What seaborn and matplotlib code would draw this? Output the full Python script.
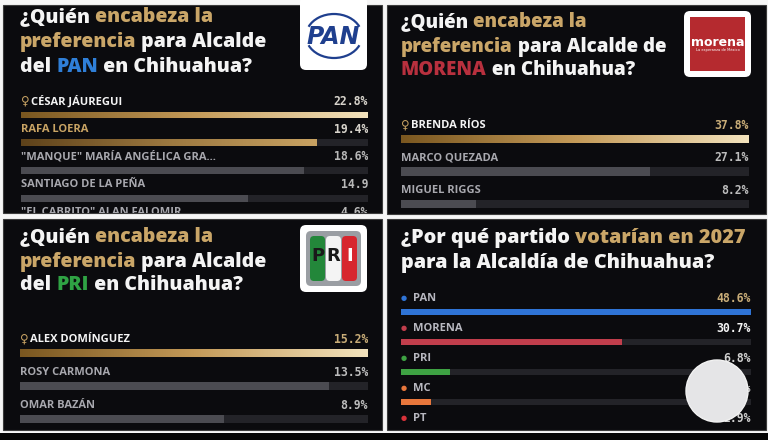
import matplotlib
matplotlib.use("Agg")
import matplotlib.pyplot as plt
import matplotlib.patches as mpatches
from matplotlib.colors import LinearSegmentedColormap
import numpy as np
import seaborn as sns

# --- data ---
pan_names = ["CÉSAR JÁUREGUI", "RAFA LOERA", "\"MANQUE\" MARÍA ANGÉLICA GRA...",
             "SANTIAGO DE LA PEÑA", "\"EL CABRITO\" ALAN FALOMIR"]
pan_values = [22.8, 19.4, 18.6, 14.9, 4.6]
pan_labels = ["22.8%", "19.4%", "18.6%", "14.9", "4.6%"]

morena_names = ["BRENDA RÍOS", "MARCO QUEZADA", "MIGUEL RIGGS"]
morena_values = [37.8, 27.1, 8.2]
morena_labels = ["37.8%", "27.1%", "8.2%"]

pri_names = ["ALEX DOMÍNGUEZ", "ROSY CARMONA", "OMAR BAZÁN"]
pri_values = [15.2, 13.5, 8.9]
pri_labels = ["15.2%", "13.5%", "8.9%"]

party_names = ["PAN", "MORENA", "PRI", "MC", "PT"]
party_values = [48.6, 30.7, 6.8, 4.2, 2.9]
party_labels = ["48.6%", "30.7%", "6.8%", "4.2%", "2.9%"]
party_colors = ["#2f74d6", "#c23e4c", "#3ea243", "#e8773c", "#d8323a"]

W, H = 768, 440
BG = "#0b0b0e"
TRACK = "#232328"
GRAY_BAR = "#4b4b51"
GOLD = "#c9a464"
WHITE = "#f4f4f4"
LABEL_GRAY = "#a8a8ae"

gold_cmap = LinearSegmentedColormap.from_list("gold", ["#7a5720", "#c49a58", "#f3e3bd"])
gold_dark = LinearSegmentedColormap.from_list("gold2", ["#5e421a", "#9c7840", "#c8a262"])

fig = plt.figure(figsize=(W / 100, H / 100), dpi=100, facecolor="#f6f6f6")
bg = fig.add_axes([0, 0, 1, 1])
bg.set_xlim(0, W)
bg.set_ylim(H, 0)
bg.set_axis_off()

panels = [(3, 5, 382, 213), (387, 5, 766, 214), (3, 219, 382, 430), (387, 219, 766, 430)]
for x0, y0, x1, y1 in panels:
    bg.add_patch(mpatches.Rectangle((x0, y0), x1 - x0, y1 - y0, facecolor=BG,
                                    edgecolor="#3c3c3c", lw=0.8))
bg.add_patch(mpatches.Rectangle((0, 433), W, 8, facecolor="#050505", lw=0))

TF = dict(family="Open Sans", weight="heavy")


def title_line(x, y, parts, size=14):
    prev = None
    for s, c in parts:
        if prev is None:
            prev = bg.text(x, y, s, color=c, va="baseline", ha="left", fontsize=size, **TF)
        else:
            prev = bg.annotate(s, xy=(1, y), xycoords=(prev, bg.transData), color=c,
                               va="baseline", ha="left", fontsize=size, **TF)


GT = "#caa668"
# panel 1
title_line(20, 22, [("¿Quién ", WHITE), ("encabeza la", GT)])
title_line(20, 47, [("preferencia", GT), (" para Alcalde", WHITE)])
title_line(20, 72, [("del ", WHITE), ("PAN", "#2f7fd8"), (" en Chihuahua?", WHITE)])
# panel 2
title_line(401, 27, [("¿Quién ", WHITE), ("encabeza la", GT)], size=13.5)
title_line(401, 52, [("preferencia", GT), (" para Alcalde de", WHITE)], size=13.5)
title_line(401, 75, [("MORENA", "#b8303e"), (" en Chihuahua?", WHITE)], size=13.5)
# panel 3
title_line(20, 242, [("¿Quién ", WHITE), ("encabeza la", GT)])
title_line(20, 267, [("preferencia", GT), (" para Alcalde", WHITE)])
title_line(20, 290, [("del ", WHITE), ("PRI", "#2fa344"), (" en Chihuahua?", WHITE)])
# panel 4
title_line(401, 243, [("¿Por qué partido ", WHITE), ("votarían en 2027", GT)], size=14.3)
title_line(401, 268, [("para la Alcaldía de Chihuahua?", WHITE)], size=14.3)

# --- logos ---
def logo_box(x0, y0, x1, y1):
    bg.add_patch(mpatches.FancyBboxPatch((x0, y0), x1 - x0, y1 - y0,
                                         boxstyle="round,pad=0,rounding_size=6",
                                         facecolor="white", edgecolor="none"))


logo_box(300, -4, 367, 70)
bg.add_patch(mpatches.Arc((334, 36), 56, 44, theta1=200, theta2=340, color="#1f3f8e", lw=1.6))
bg.add_patch(mpatches.Arc((334, 36), 56, 44, theta1=20, theta2=160, color="#1f3f8e", lw=1.6))
bg.text(333, 37, "PAN", color="#1f3f8e", fontsize=17, fontstyle="italic",
        weight="bold", family="DejaVu Sans", ha="center", va="center")

logo_box(684, 11, 751, 77)
bg.add_patch(mpatches.Rectangle((690, 17), 55, 54, facecolor="#b52a2f", lw=0))
bg.text(717.5, 42, "morena", color="white", fontsize=9, weight="bold",
        family="DejaVu Sans", ha="center", va="center")
bg.text(717.5, 50, "La esperanza de México", color="white", fontsize=2.6,
        family="DejaVu Sans", ha="center", va="center")

logo_box(300, 225, 367, 292)
bg.add_patch(mpatches.FancyBboxPatch((306, 231), 55, 55, boxstyle="round,pad=0,rounding_size=5",
                                     facecolor="#9a9ea3", edgecolor="none"))
for xs, col, letter, lc in [(310, "#23873a", "P", "#1a1a1a"), (326, "#f4f4f4", "R", "#1a1a1a"),
                            (342, "#d7262e", "I", "white")]:
    bg.add_patch(mpatches.FancyBboxPatch((xs, 236), 15, 45, boxstyle="round,pad=0,rounding_size=4",
                                         facecolor=col, edgecolor="none"))
    bg.text(xs + 7.5, 256, letter, color=lc, fontsize=13, weight="bold",
            family="DejaVu Sans", ha="center", va="center")


# --- bar panels ---
def bar_panel(names, values, colors, box, bar_h):
    x0, x1, y_top, y_bot = box
    ax = fig.add_axes([x0 / W, 1 - y_bot / H, (x1 - x0) / W, (y_bot - y_top) / H])
    ax.patch.set_alpha(0)
    top = max(values)
    sns.barplot(x=[top] * len(names), y=names, color=TRACK, width=bar_h,
                saturation=1, errorbar=None, ax=ax)
    sns.barplot(x=values, y=names, hue=names, palette=colors, width=bar_h,
                saturation=1, errorbar=None, legend=False, ax=ax)
    ax.set_axis_off()
    return ax, top


def fix_limits(ax, top, box, row0, step):
    x0, x1, y_top, y_bot = box
    ax.set_xlim(0, top)
    ax.set_ylim((y_bot - row0) / step, (y_top - row0) / step)


def gild(ax, patch, cmap):
    x, y = patch.get_x(), patch.get_y()
    w, h = patch.get_width(), patch.get_height()
    grad = np.linspace(0, 1, 256).reshape(1, -1)
    im = ax.imshow(grad, cmap=cmap, extent=(x, x + w, y + h, y), aspect="auto",
                   zorder=patch.get_zorder() + 0.1)
    im.set_clip_path(patch)


def add_labels(ax, top, names, labels, name_colors, value_colors, first_dx=0, name_dx=0):
    for i, (n, lab) in enumerate(zip(names, labels)):
        dx = first_dx if i == 0 else name_dx
        ax.annotate(n, xy=(0, i), xytext=(dx, 10), textcoords="offset points",
                    ha="left", va="center", fontsize=8, weight="bold",
                    family="Open Sans", color=name_colors[i], annotation_clip=False,
                    clip_on=True)
        ax.annotate(lab, xy=(top, i), xytext=(0, 10), textcoords="offset points",
                    ha="right", va="center", fontsize=8.3, weight="bold",
                    family="DejaVu Sans Mono", color=value_colors[i], annotation_clip=False,
                    clip_on=True)


def trophy(ax):
    ax.annotate("♀", xy=(0, 0), xytext=(0, 10), textcoords="offset points",
                ha="left", va="center", fontsize=8.5, weight="bold",
                family="DejaVu Sans", color=GOLD)


# panel 1
box1 = (21, 368, 90, 213)
ax1, t1 = bar_panel(pan_names, pan_values,
                    [GOLD, GOLD, GRAY_BAR, GRAY_BAR, GRAY_BAR], box1, 0.25)
n = len(pan_names)
gild(ax1, ax1.patches[n], gold_cmap)
gild(ax1, ax1.patches[n + 1], gold_dark)
add_labels(ax1, t1, pan_names, pan_labels,
           [WHITE, GOLD, LABEL_GRAY, LABEL_GRAY, LABEL_GRAY],
           ["#d8d4cc", "#d8d4cc", "#b8b8b8", "#b8b8b8", "#b8b8b8"], first_dx=7)
trophy(ax1)
fix_limits(ax1, t1, box1, 115, 27.9)

# panel 2
box2 = (401, 749, 110, 214)
ax2, t2 = bar_panel(morena_names, morena_values, [GOLD, GRAY_BAR, GRAY_BAR], box2, 0.25)
gild(ax2, ax2.patches[3], gold_cmap)
add_labels(ax2, t2, morena_names, morena_labels, [WHITE, LABEL_GRAY, LABEL_GRAY],
           ["#c9ad78", "#bdbdbd", "#bdbdbd"], first_dx=7)
trophy(ax2)
fix_limits(ax2, t2, box2, 139, 32.5)

# panel 3
box3 = (20, 368, 324, 430)
ax3, t3 = bar_panel(pri_names, pri_values, [GOLD, GRAY_BAR, GRAY_BAR], box3, 0.25)
gild(ax3, ax3.patches[3], gold_cmap)
add_labels(ax3, t3, pri_names, pri_labels, [WHITE, LABEL_GRAY, LABEL_GRAY],
           ["#c9ad78", "#bdbdbd", "#bdbdbd"], first_dx=7)
trophy(ax3)
fix_limits(ax3, t3, box3, 353, 33)

# panel 4
box4 = (401, 751, 284, 428)
ax4, t4 = bar_panel(party_names, party_values, party_colors, box4, 0.23)
add_labels(ax4, t4, party_names, party_labels, ["#b8b8c0"] * 5,
           ["#c9ad78", WHITE, "#d0d0d0", "#d0d0d0", "#d0d0d0"], first_dx=9, name_dx=9)
for i, c in enumerate(party_colors):
    ax4.annotate("●", xy=(0, i), xytext=(0, 10), textcoords="offset points",
                 ha="left", va="center", fontsize=5, family="DejaVu Sans", color=c,
                 annotation_clip=False, clip_on=True)
fix_limits(ax4, t4, box4, 312, 30)

# white blot over the MC value
top_ax = fig.add_axes([0, 0, 1, 1])
top_ax.set_xlim(0, W)
top_ax.set_ylim(H, 0)
top_ax.set_axis_off()
top_ax.patch.set_alpha(0)
top_ax.add_patch(mpatches.Circle((717, 391), 31, facecolor="#e5e5e7", edgecolor="#f2f2f2", lw=1))

fig.savefig("out.png", dpi=100, facecolor=fig.get_facecolor())
